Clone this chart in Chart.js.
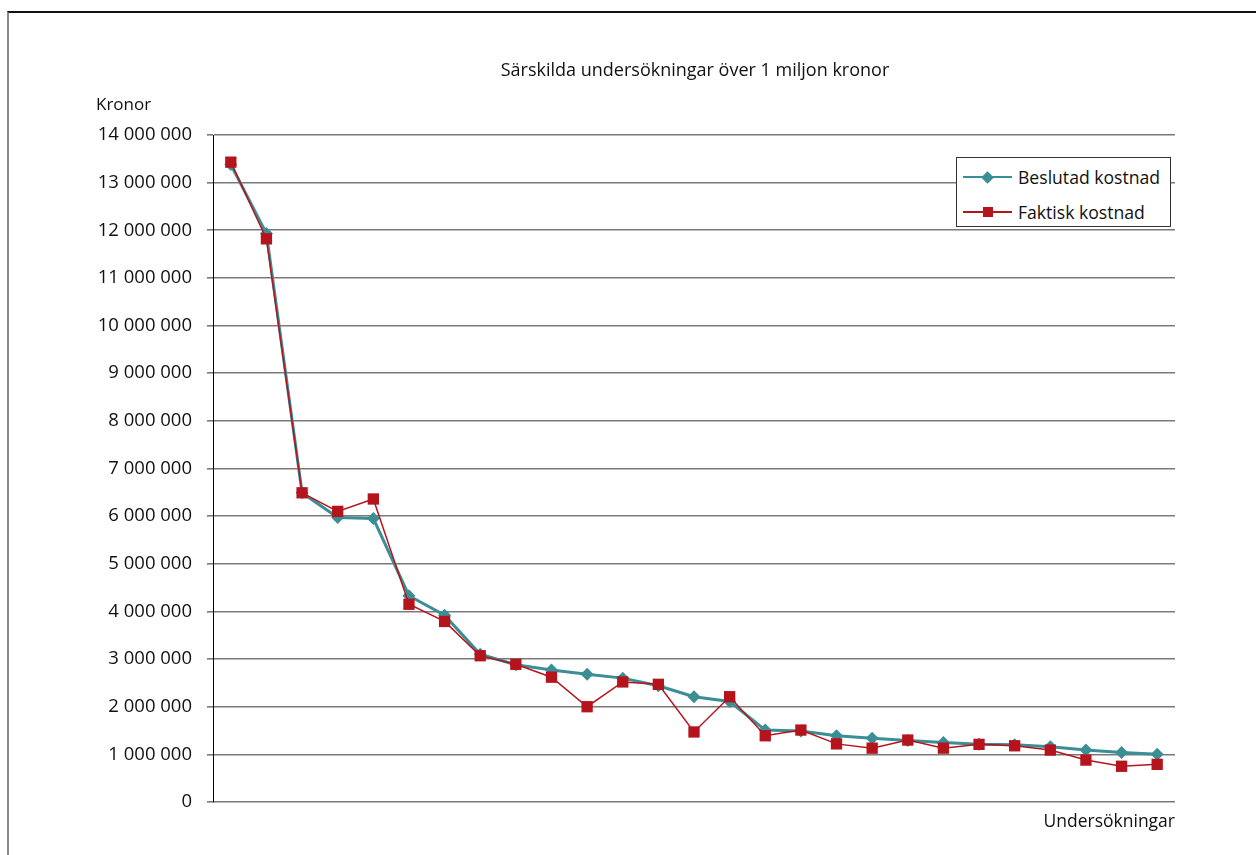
<!DOCTYPE html>
<html lang="sv">
<head>
<meta charset="utf-8">
<title>Särskilda undersökningar över 1 miljon kronor</title>
<script src="https://cdn.jsdelivr.net/npm/chart.js@4.4.1/dist/chart.umd.min.js"></script>
<style>
  html, body { margin: 0; padding: 0; background: #fff; }
  body { width: 1256px; height: 855px; position: relative; overflow: hidden; font-family: "Open Sans", sans-serif; color: #111; }
  .frame { position: absolute; left: 7px; top: 11px; right: -10px; bottom: -10px; border-top: 2px solid #111; border-left: 2px solid #8a8a8a; }
  .wrap { position: absolute; left: 0; top: 0; width: 1256px; height: 855px; }
  .ttl { position: absolute; left: 0; width: 1390px; top: 57px; text-align: center; font-size: 18px; }
  .yTtl { position: absolute; left: 96px; top: 92px; font-size: 17px; }
  .lgnd { position: absolute; left: 956px; top: 157px; width: 213px; height: 68px; border: 1px solid #333; background: #fff; }
  .lgnd .itm { position: absolute; left: 6px; height: 20px; display: flex; align-items: center; font-size: 17.6px; }
  .lgnd .smp { position: relative; width: 49px; height: 20px; margin-right: 6px; }
  .lgnd .ln { position: absolute; left: 0; right: 0; top: 9px; height: 2px; }
  .lgnd .mk { position: absolute; left: 50%; top: 50%; }
  .lgnd .dia { width: 9px; height: 9px; margin: -4.5px 0 0 -4.5px; transform: rotate(45deg); }
  .lgnd .sq { width: 10px; height: 10px; margin: -5px 0 0 -5px; }
</style>
</head>
<body>
<div class="frame"></div>
<div class="wrap"><canvas id="kostChart" width="1256" height="855"></canvas></div>
<div class="ttl">Särskilda undersökningar över 1 miljon kronor</div>
<div class="yTtl">Kronor</div>
<div class="lgnd" id="chartLegend"></div>
<script>
// undersökningar, sorterade efter beslutad kostnad
const categories = ["1", "2", "3", "4", "5", "6", "7", "8", "9", "10", "11", "12", "13", "14",
  "15", "16", "17", "18", "19", "20", "21", "22", "23", "24", "25", "26", "27"];

const beslutad = [13380000, 11930000, 6490000, 5970000, 5950000, 4330000, 3920000, 3100000,
  2880000, 2770000, 2680000, 2600000, 2440000, 2210000, 2110000, 1510000, 1490000, 1390000,
  1340000, 1290000, 1250000, 1210000, 1200000, 1160000, 1090000, 1040000, 1000000];

const faktisk = [13430000, 11820000, 6490000, 6100000, 6360000, 4150000, 3790000, 3070000,
  2890000, 2620000, 2000000, 2520000, 2470000, 1470000, 2210000, 1390000, 1510000, 1220000,
  1130000, 1300000, 1130000, 1210000, 1180000, 1090000, 880000, 750000, 790000];

const seriesNames = ["Beslutad kostnad", "Faktisk kostnad"];
const yMin = 0;
const yMax = 14000000;
const yStep = 1000000;

const TEAL = "#3a8e96";
const RED = "#b5141d";

// 14000000 -> "14 000 000"
function kr(v) {
  return String(Math.round(v)).replace(/\B(?=(\d{3})+(?!\d))/g, " ");
}

const data = {
  labels: categories,
  datasets: [
    {
      label: seriesNames[0],
      data: beslutad,
      borderColor: TEAL,
      backgroundColor: TEAL,
      borderWidth: 3,
      pointStyle: "rectRot",
      pointRadius: 6.5,
      pointBorderWidth: 0,
      order: 2,
    },
    {
      label: seriesNames[1],
      data: faktisk,
      borderColor: RED,
      backgroundColor: RED,
      borderWidth: 1.5,
      pointStyle: "rect",
      pointRadius: 8,
      pointBorderWidth: 0,
      order: 1, // ritas ovanpå
    },
  ],
};

const config = {
  type: "line",
  data: data,
  options: {
    responsive: false,
    animation: false,
    layout: {
      padding: { left: 0, right: 81, top: 135, bottom: 22 },
    },
    plugins: {
      legend: { display: false },
      title: { display: false },
      tooltip: { enabled: false },
    },
    elements: {
      line: { tension: 0 },
    },
    scales: {
      x: {
        offset: true,
        grid: { display: false, drawTicks: false },
        border: { display: false },
        ticks: { display: false },
        title: {
          display: true,
          text: "Undersökningar",
          align: "end",
          color: "#111",
          font: { family: "Open Sans", size: 17.5 },
          padding: { top: 10, bottom: 0 },
        },
      },
      y: {
        min: yMin,
        max: yMax,
        afterFit: (scale) => {
          scale.width = 213; // axeln hamnar vid x = 213
        },
        grid: {
          color: "#7a7a7a",
          lineWidth: 1.6,
          tickLength: 6,
        },
        border: { display: true, color: "#000", width: 1 },
        ticks: {
          stepSize: yStep,
          color: "#111",
          padding: 15,
          font: { family: "Open Sans", size: 18.5 },
          callback: (v) => kr(v),
        },
      },
    },
  },
};

const ctx = document.getElementById("kostChart").getContext("2d");
new Chart(ctx, config);

// egen förklaring med linje + markör
const legendContainer = document.getElementById("chartLegend");
data.datasets.forEach((ds, i) => {
  const item = document.createElement("div");
  item.classList.add("itm");
  item.style.top = (i === 0 ? 9 : 44) + "px";

  const sample = document.createElement("span");
  sample.classList.add("smp");
  const line = document.createElement("span");
  line.classList.add("ln");
  line.style.background = ds.borderColor;
  line.style.height = "1.5px";
  const mark = document.createElement("span");
  mark.classList.add("mk", ds.pointStyle === "rect" ? "sq" : "dia");
  mark.style.background = ds.backgroundColor;
  sample.appendChild(line);
  sample.appendChild(mark);

  const txt = document.createElement("span");
  txt.textContent = ds.label;

  item.appendChild(sample);
  item.appendChild(txt);
  legendContainer.appendChild(item);
});
</script>
</body>
</html>
